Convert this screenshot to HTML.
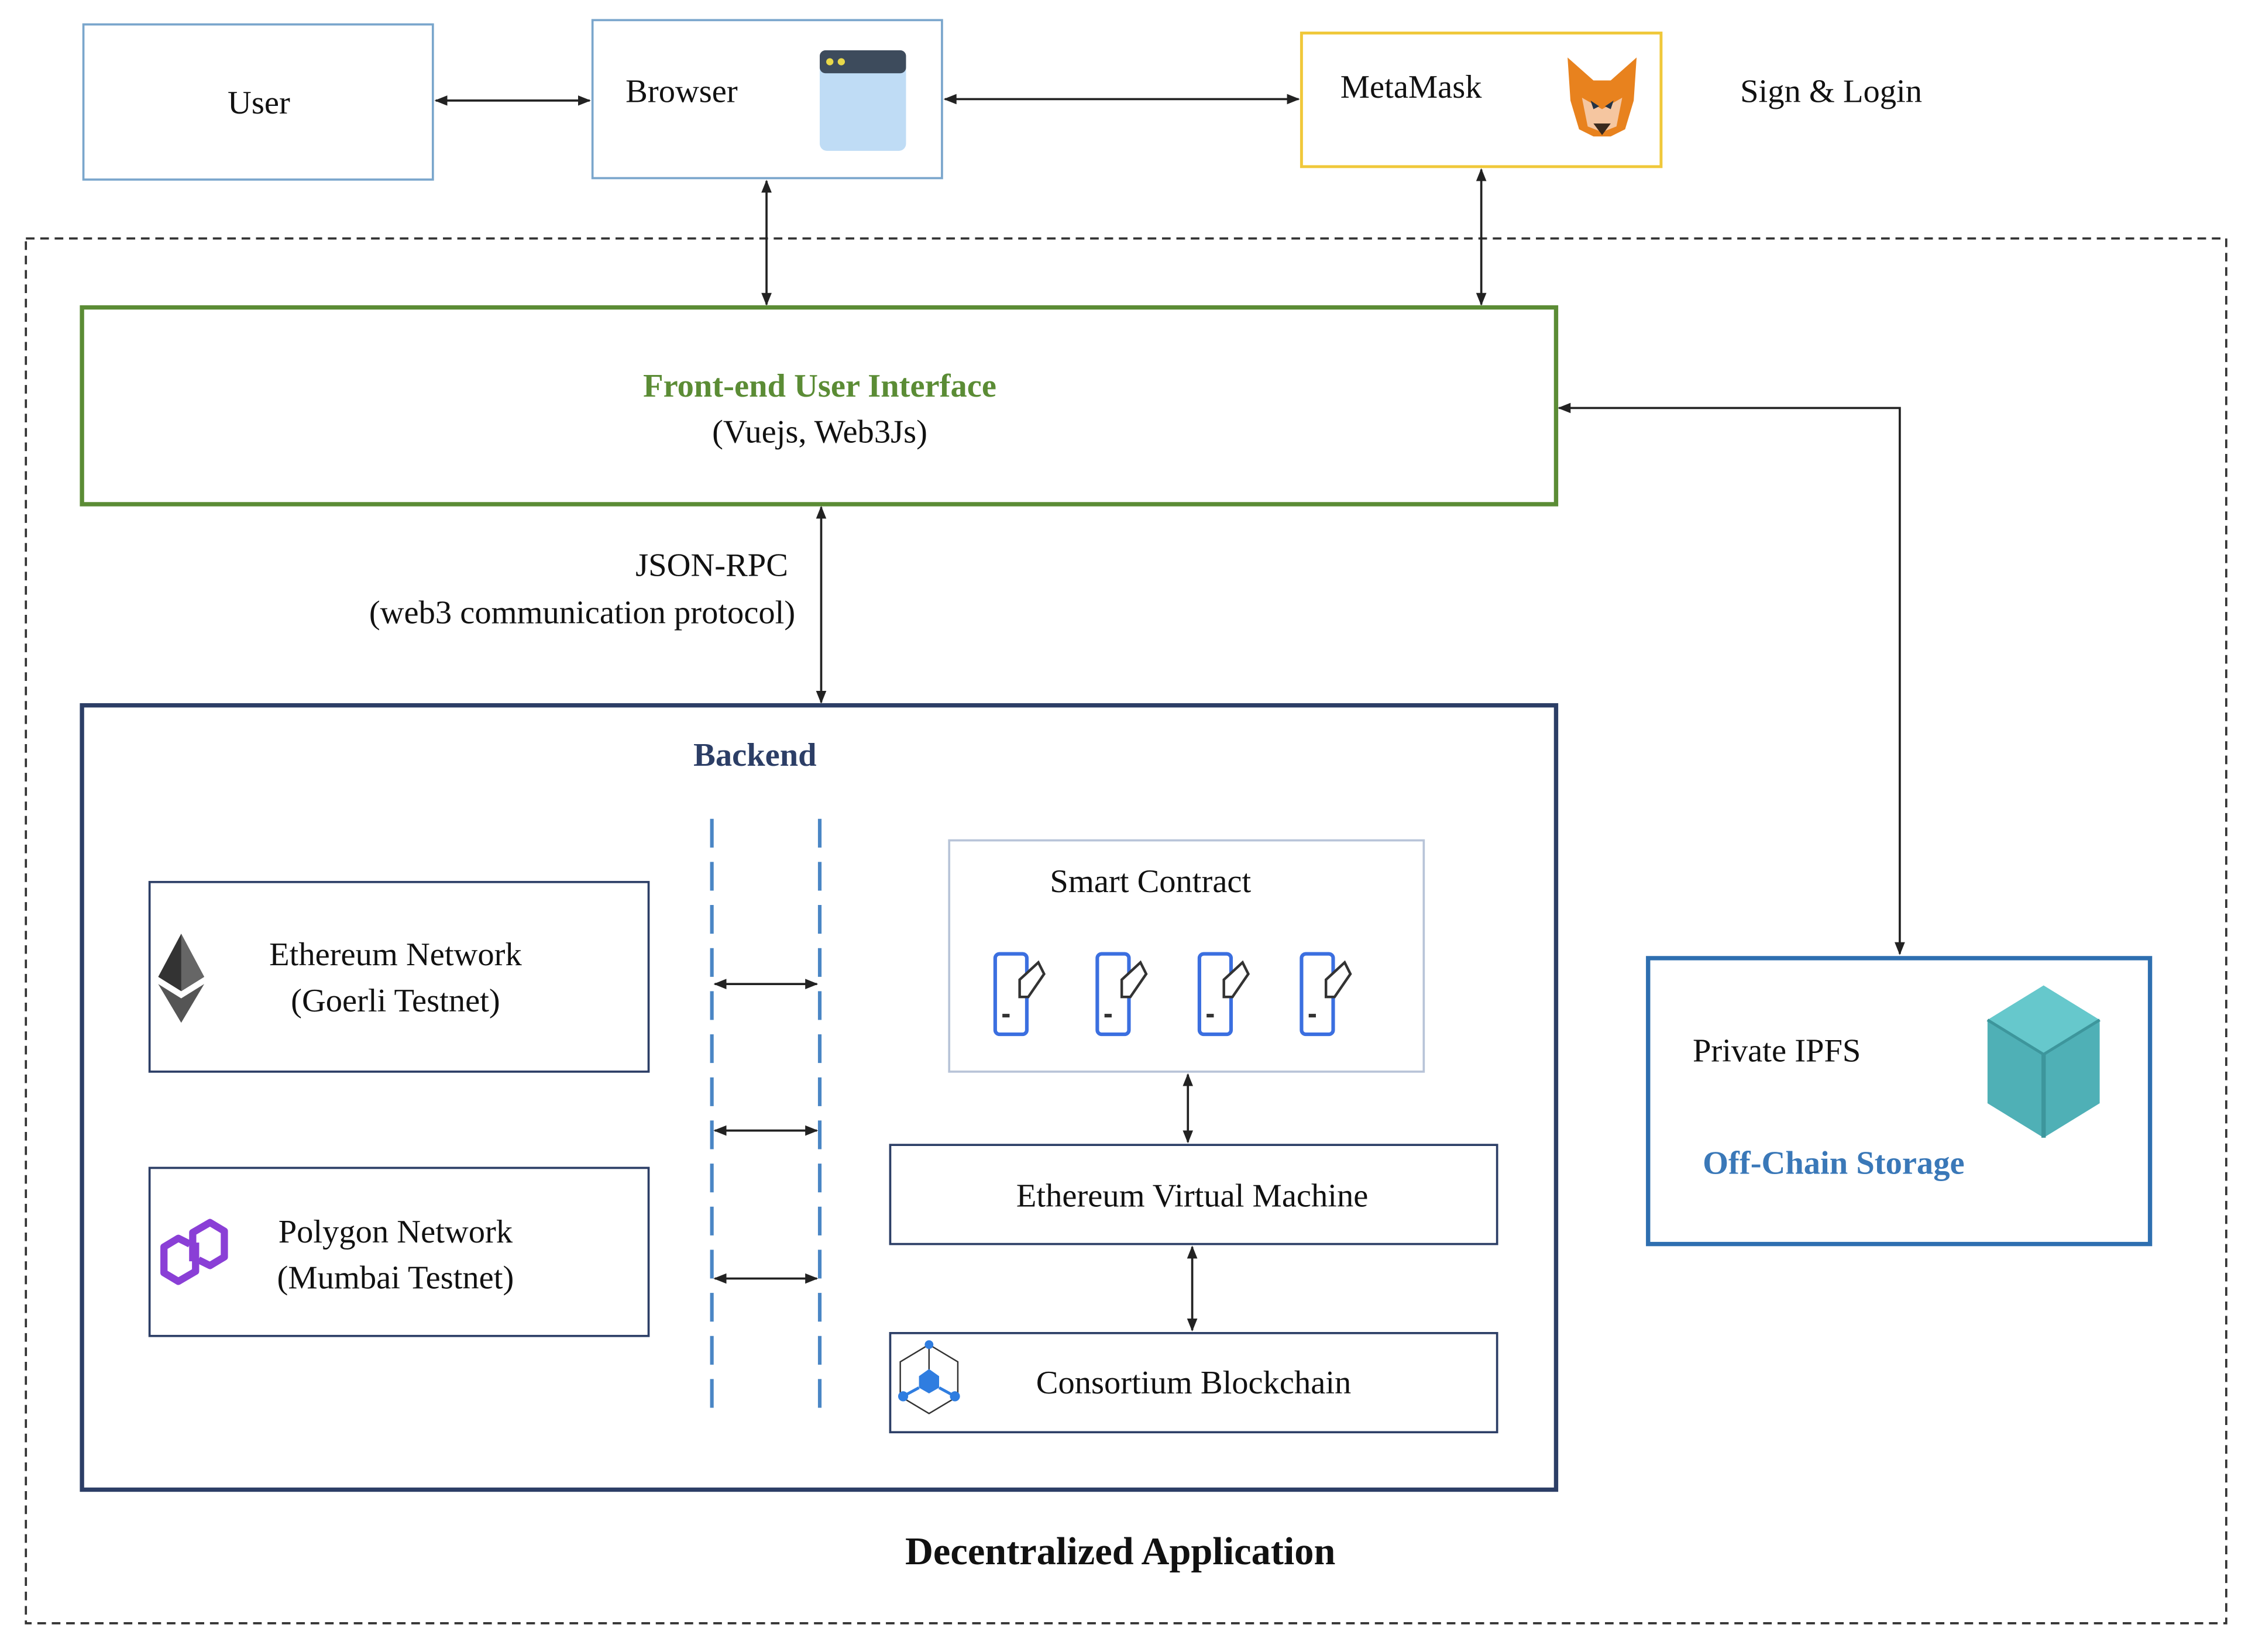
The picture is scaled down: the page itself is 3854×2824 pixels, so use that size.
<!DOCTYPE html>
<html><head><meta charset="utf-8"><style>
html,body{margin:0;padding:0;background:#fff;}
svg{display:block;}
svg text{font-family:"Liberation Serif","Times New Roman",serif !important;fill:#111;}
</style></head><body>
<svg width="3854" height="2824" viewBox="0 0 1568 1150" preserveAspectRatio="none" xmlns="http://www.w3.org/2000/svg" font-family="Liberation Serif, serif">
<defs>
<marker id="a" viewBox="0 0 10 10" refX="9" refY="5" markerWidth="9" markerHeight="9" orient="auto-start-reverse" markerUnits="userSpaceOnUse"><path d="M0,1 L10,5 L0,9 z" fill="#222"/></marker>
</defs>
<rect width="1568" height="1150" fill="#fff"/>
<rect x="58" y="17" width="243" height="108" fill="none" stroke="#7aa6cc" stroke-width="1.5"/>
<text x="180" y="79" font-size="23" text-anchor="middle" font-family="Liberation Serif, serif">User</text>
<rect x="412" y="14" width="243" height="110" fill="none" stroke="#7aa6cc" stroke-width="1.5"/>
<text x="435" y="71" font-size="23" font-family="Liberation Serif, serif">Browser</text>
<rect x="570" y="35" width="60" height="70" rx="5" fill="#bfdcf5"/>
<rect x="570" y="35" width="60" height="16" rx="4" fill="#3d4b5c"/>
<circle cx="577" cy="43" r="2.5" fill="#e8d84a"/><circle cx="585" cy="43" r="2.5" fill="#e8d84a"/>
<line x1="303" y1="70" x2="410" y2="70" stroke="#222" stroke-width="1.5" marker-start="url(#a)" marker-end="url(#a)"/>
<rect x="905" y="23" width="250" height="93" fill="none" stroke="#f0c83a" stroke-width="2"/>
<text x="932" y="68" font-size="23" font-family="Liberation Serif, serif">MetaMask</text>
<g transform="translate(1090,40)">
<polygon points="0,0 18,16 30,16 48,0 46,30 40,50 30,55 18,55 8,50 2,30" fill="#e8821e"/>
<polygon points="10,28 24,36 38,28 34,48 24,52 14,48" fill="#f5c6a0"/>
<polygon points="16,30 22,34 18,36" fill="#233447"/><polygon points="32,30 26,34 30,36" fill="#233447"/>
<polygon points="18,46 30,46 24,54" fill="#3a2a1e"/>
</g>
<text x="1210" y="71" font-size="23" font-family="Liberation Serif, serif">Sign &amp; Login</text>
<line x1="657" y1="69" x2="903" y2="69" stroke="#222" stroke-width="1.5" marker-start="url(#a)" marker-end="url(#a)"/>
<rect x="18" y="166" width="1530" height="964" fill="none" stroke="#333" stroke-width="1.5" stroke-dasharray="6,4"/>
<line x1="533" y1="126" x2="533" y2="212" stroke="#222" stroke-width="1.5" marker-start="url(#a)" marker-end="url(#a)"/>
<line x1="1030" y1="118" x2="1030" y2="212" stroke="#222" stroke-width="1.5" marker-start="url(#a)" marker-end="url(#a)"/>
<rect x="57" y="214" width="1025" height="137" fill="none" stroke="#5b8c35" stroke-width="3"/>
<text x="570" y="276" font-size="23" font-weight="bold" text-anchor="middle" font-family="Liberation Serif, serif" style="fill:#5b8c35">Front-end  User Interface</text>
<text x="570" y="308" font-size="23" text-anchor="middle" font-family="Liberation Serif, serif">(Vuejs, Web3Js)</text>
<line x1="571" y1="353" x2="571" y2="489" stroke="#222" stroke-width="1.5" marker-start="url(#a)" marker-end="url(#a)"/>
<text x="548" y="401" font-size="23" text-anchor="end" font-family="Liberation Serif, serif">JSON-RPC</text>
<text x="553" y="434" font-size="23" text-anchor="end" font-family="Liberation Serif, serif">(web3 communication protocol)</text>
<polyline points="1084,284 1321,284 1321,664" fill="none" stroke="#222" stroke-width="1.5" marker-start="url(#a)" marker-end="url(#a)"/>
<rect x="57" y="491" width="1025" height="546" fill="none" stroke="#2c3e66" stroke-width="3"/>
<text x="525" y="533" font-size="23" font-weight="bold" text-anchor="middle" font-family="Liberation Serif, serif" style="fill:#2c3e66">Backend</text>
<rect x="104" y="614" width="347" height="132" fill="none" stroke="#2c3e66" stroke-width="1.5"/>
<text x="275" y="672" font-size="23" text-anchor="middle" font-family="Liberation Serif, serif">Ethereum  Network</text>
<text x="275" y="704" font-size="23" text-anchor="middle" font-family="Liberation Serif, serif">(Goerli  Testnet)</text>
<polygon points="126,650 110,680 126,690 142,680" fill="#333"/>
<polygon points="126,650 126,690 142,680" fill="#666"/>
<polygon points="110,685 126,712 142,685 126,695" fill="#555"/>
<rect x="104" y="813" width="347" height="117" fill="none" stroke="#2c3e66" stroke-width="1.5"/>
<text x="275" y="865" font-size="23" text-anchor="middle" font-family="Liberation Serif, serif">Polygon  Network</text>
<text x="275" y="897" font-size="23" text-anchor="middle" font-family="Liberation Serif, serif">(Mumbai  Testnet)</text>
<path d="M136,865 L136,885 L124,892 L114,886 L114,868 L124,862 L132,866 M134,878 L134,858 L146,851 L156,857 L156,875 L146,881 L138,877" fill="none" stroke="#8a3fd6" stroke-width="5" stroke-linejoin="round"/>
<line x1="495" y1="570" x2="495" y2="990" stroke="#4a86c5" stroke-width="2.5" stroke-dasharray="20,10"/>
<line x1="570" y1="570" x2="570" y2="990" stroke="#4a86c5" stroke-width="2.5" stroke-dasharray="20,10"/>
<line x1="497" y1="685" x2="568" y2="685" stroke="#222" stroke-width="1.5" marker-start="url(#a)" marker-end="url(#a)"/>
<line x1="497" y1="787" x2="568" y2="787" stroke="#222" stroke-width="1.5" marker-start="url(#a)" marker-end="url(#a)"/>
<line x1="497" y1="890" x2="568" y2="890" stroke="#222" stroke-width="1.5" marker-start="url(#a)" marker-end="url(#a)"/>
<rect x="660" y="585" width="330" height="161" fill="none" stroke="#b8c4d8" stroke-width="1.5"/>
<text x="800" y="621" font-size="23" text-anchor="middle" font-family="Liberation Serif, serif">Smart  Contract</text>
<g fill="none" stroke-width="2.5">
<g transform="translate(692,664)"><rect x="0" y="0" width="22" height="56" rx="3" stroke="#3b6fe0"/><path d="M17,30 L17,18 L30,6 L34,14 L23,30 Z" stroke="#333" stroke-width="1.8" fill="#fff"/><line x1="5" y1="43" x2="10" y2="43" stroke="#333"/></g>
<g transform="translate(763,664)"><rect x="0" y="0" width="22" height="56" rx="3" stroke="#3b6fe0"/><path d="M17,30 L17,18 L30,6 L34,14 L23,30 Z" stroke="#333" stroke-width="1.8" fill="#fff"/><line x1="5" y1="43" x2="10" y2="43" stroke="#333"/></g>
<g transform="translate(834,664)"><rect x="0" y="0" width="22" height="56" rx="3" stroke="#3b6fe0"/><path d="M17,30 L17,18 L30,6 L34,14 L23,30 Z" stroke="#333" stroke-width="1.8" fill="#fff"/><line x1="5" y1="43" x2="10" y2="43" stroke="#333"/></g>
<g transform="translate(905,664)"><rect x="0" y="0" width="22" height="56" rx="3" stroke="#3b6fe0"/><path d="M17,30 L17,18 L30,6 L34,14 L23,30 Z" stroke="#333" stroke-width="1.8" fill="#fff"/><line x1="5" y1="43" x2="10" y2="43" stroke="#333"/></g>
</g>
<line x1="826" y1="748" x2="826" y2="795" stroke="#222" stroke-width="1.5" marker-start="url(#a)" marker-end="url(#a)"/>
<rect x="619" y="797" width="422" height="69" fill="none" stroke="#2c3e66" stroke-width="1.5"/>
<text x="829" y="840" font-size="23" text-anchor="middle" font-family="Liberation Serif, serif">Ethereum  Virtual  Machine</text>
<line x1="829" y1="868" x2="829" y2="926" stroke="#222" stroke-width="1.5" marker-start="url(#a)" marker-end="url(#a)"/>
<rect x="619" y="928" width="422" height="69" fill="none" stroke="#2c3e66" stroke-width="1.5"/>
<text x="830" y="970" font-size="23" text-anchor="middle" font-family="Liberation Serif, serif">Consortium  Blockchain</text>
<g transform="translate(646,936)">
<polygon points="0,0 20,12 20,36 0,48 -20,36 -20,12" fill="none" stroke="#333" stroke-width="1"/>
<line x1="0" y1="0" x2="0" y2="20" stroke="#333"/>
<polygon points="0,17 7,22 7,30 0,34 -7,30 -7,22" fill="#2f7de0"/>
<circle cx="0" cy="0" r="3" fill="#2f7de0"/><circle cx="-18" cy="36" r="3.5" fill="#2f7de0"/><circle cx="18" cy="36" r="3.5" fill="#2f7de0"/>
<line x1="-7" y1="30" x2="-18" y2="36" stroke="#2f7de0" stroke-width="2"/><line x1="7" y1="30" x2="18" y2="36" stroke="#2f7de0" stroke-width="2"/>
</g>
<rect x="1146" y="667" width="349" height="199" fill="none" stroke="#2e6fb0" stroke-width="3"/>
<text x="1177" y="739" font-size="23" font-family="Liberation Serif, serif">Private  IPFS</text>
<text x="1275" y="817" font-size="23" font-weight="bold" text-anchor="middle" font-family="Liberation Serif, serif" style="fill:#3a78b8">Off-Chain  Storage</text>
<g transform="translate(1421,686)">
<polygon points="0,0 39,24 39,82 0,106 -39,82 -39,24" fill="#4fb0b6"/>
<polygon points="0,0 39,24 0,48 -39,24" fill="#66c8cc"/>
<line x1="0" y1="48" x2="0" y2="106" stroke="#3d969c" stroke-width="3"/>
<line x1="0" y1="48" x2="-39" y2="24" stroke="#3d969c" stroke-width="2"/>
<line x1="0" y1="48" x2="39" y2="24" stroke="#3d969c" stroke-width="2"/>
</g>
<text x="779" y="1089" font-size="27" font-weight="bold" text-anchor="middle" font-family="Liberation Serif, serif">Decentralized Application</text>
</svg>
</body></html>
